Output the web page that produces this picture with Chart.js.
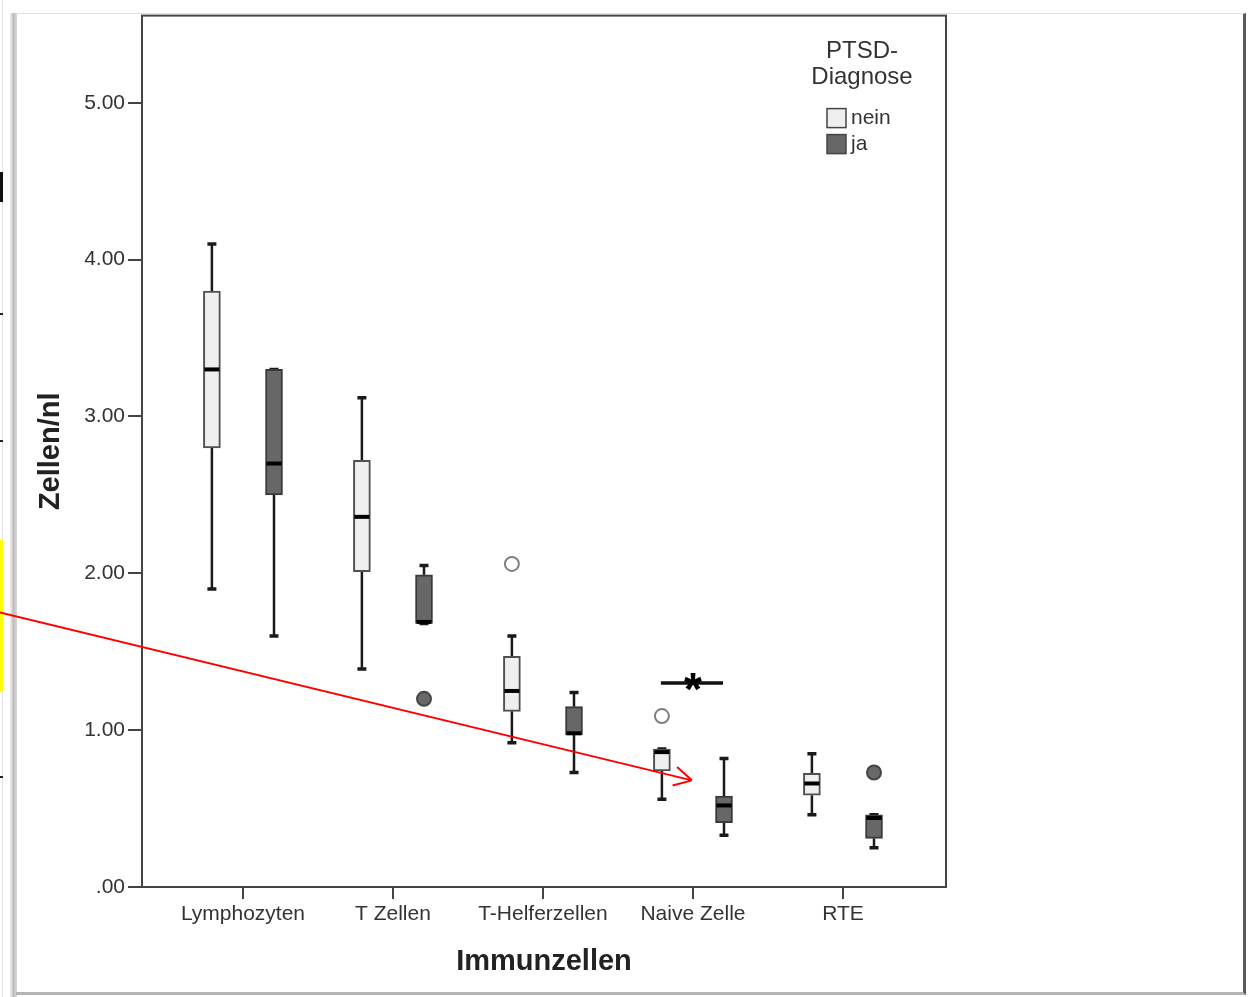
<!DOCTYPE html>
<html>
<head>
<meta charset="utf-8">
<script src="https://cdn.jsdelivr.net/npm/chart.js@4"></script>
<style>
  html, body { margin: 0; padding: 0; background: #fff; }
  #wrap { position: relative; width: 1250px; height: 997px; overflow: hidden; }
  #frame { position: absolute; left: 16px; top: 13px; width: 1227px; height: 978px;
           border-top: 1px solid #e2e2e2; border-right: 3px solid #5a5a5a; border-bottom: 3px solid #b4b4b4; }
  #shade { position: absolute; left: 10px; top: 13px; width: 7px; height: 984px;
           background: linear-gradient(to right, #f2f2f2, #bdbdbd, #d9d9d9); }
  #edge { position: absolute; left: 2px; top: 0; width: 1px; height: 997px; background: #e4e4e4; }
  #yellow { position: absolute; left: 0; top: 540px; width: 3px; height: 152px; background: #ffff00; }
  #blob { position: absolute; left: 0; top: 172px; width: 3px; height: 30px; background: #111; }
  .tick { position: absolute; left: 0; width: 3px; height: 2px; background: #222; }
  canvas { position: absolute; left: 0; top: 0; }
</style>
</head>
<body>
<div id="wrap">
  <div id="edge"></div>
  <div id="shade"></div>
  <div id="frame"></div>
  <div id="yellow"></div>
  <div id="blob"></div>
  <div class="tick" style="top:313px"></div>
  <div class="tick" style="top:440px"></div>
  <div class="tick" style="top:776px"></div>
  <canvas id="stage" width="1250" height="997"></canvas>
</div>
<script>
// Kategorien und Werte (Zellen/nl)
const categories = ['Lymphozyten', 'T Zellen', 'T-Helferzellen', 'Naive Zelle', 'RTE'];
const groups = ['nein', 'ja'];

const neinMin = [1.90, 1.39, 0.92, 0.56, 0.46];
const neinQ1  = [2.80, 2.01, 1.12, 0.74, 0.585];
const neinMed = [3.30, 2.36, 1.25, 0.86, 0.66];
const neinQ3  = [3.80, 2.72, 1.47, 0.88, 0.725];
const neinMax = [4.10, 3.12, 1.60, 0.88, 0.85];
const neinOut = [null, null, 2.06, 1.09, null];

const jaMin = [1.60, 1.68, 0.73, 0.33, 0.25];
const jaQ1  = [2.50, 1.68, 0.97, 0.41, 0.31];
const jaMed = [2.70, 1.69, 0.98, 0.52, 0.44];
const jaQ3  = [3.30, 1.99, 1.15, 0.58, 0.46];
const jaMax = [3.30, 2.05, 1.24, 0.82, 0.46];
const jaOut = [null, 1.20, null, null, 0.73];

const yTicks = [0, 1, 2, 3, 4, 5];

// Signifikanz-Markierung (Naive Zelle)
const sigCategory = 3;
const sigLevel = 1.30;

// roter Pfeil (Anmerkung), in Achsenwerten
const arrowFrom = { x: -1.62, y: 1.75 };
const arrowTo = { x: 2.993, y: 0.68 };

const FONT = "'Liberation Sans', Arial, sans-serif";
const OFF = 0.207;          // Abstand der Boxen von der Kategoriemitte
const BOX_W = 17;
const LIGHT = '#efefef', DARK = '#676767';

const boxes = [
    { min: neinMin, q1: neinQ1, med: neinMed, q3: neinQ3, max: neinMax, out: neinOut, dx: -OFF, fill: LIGHT, line: '#505050' },
    { min: jaMin, q1: jaQ1, med: jaMed, q3: jaQ3, max: jaMax, out: jaOut, dx: OFF, fill: DARK, line: '#3a3a3a' },
];

function boxData(b){
    return categories.map((c, i) => ({ x: i + b.dx, y: [b.q1[i], b.q3[i]] }));
}
function outlierData(b){
    const pts = [];
    b.out.forEach((v, i) => { if (v !== null) pts.push({ x: i + b.dx, y: v }); });
    return pts;
}

// Whisker, Mediane, Rahmen, Legende usw.
const boxplotExtras = {
    id: 'boxplotExtras',
    beforeDatasetsDraw(chart){
        const ctx = chart.ctx, xs = chart.scales.x, ys = chart.scales.y;
        const a = chart.chartArea;
        ctx.save();
        ctx.strokeStyle = '#444';
        ctx.lineWidth = 2;
        ctx.strokeRect(a.left, a.top, a.right - a.left, a.bottom - a.top);
        // Whisker
        ctx.strokeStyle = '#1a1a1a';
        for (const b of boxes) {
            categories.forEach((c, i) => {
                const px = xs.getPixelForValue(i + b.dx);
                const yMin = ys.getPixelForValue(b.min[i]), yMax = ys.getPixelForValue(b.max[i]);
                const yQ1 = ys.getPixelForValue(b.q1[i]), yQ3 = ys.getPixelForValue(b.q3[i]);
                ctx.lineWidth = 2.5;
                ctx.beginPath();
                ctx.moveTo(px, yQ3); ctx.lineTo(px, yMax);
                ctx.moveTo(px, yQ1); ctx.lineTo(px, yMin);
                ctx.stroke();
                ctx.lineWidth = 3.5;
                ctx.beginPath();
                ctx.moveTo(px - 4.5, yMax); ctx.lineTo(px + 4.5, yMax);
                ctx.moveTo(px - 4.5, yMin); ctx.lineTo(px + 4.5, yMin);
                ctx.stroke();
            });
        }
        ctx.restore();
    },
    afterDatasetsDraw(chart){
        const ctx = chart.ctx, xs = chart.scales.x, ys = chart.scales.y;
        const a = chart.chartArea;
        ctx.save();
        // Mediane
        ctx.strokeStyle = '#000';
        ctx.lineWidth = 4;
        for (const b of boxes) {
            categories.forEach((c, i) => {
                const px = xs.getPixelForValue(i + b.dx);
                const y = ys.getPixelForValue(b.med[i]);
                ctx.beginPath();
                ctx.moveTo(px - BOX_W / 2 + 1, y); ctx.lineTo(px + BOX_W / 2 - 1, y);
                ctx.stroke();
            });
        }
        // Signifikanz
        const sy = ys.getPixelForValue(sigLevel);
        ctx.strokeStyle = '#111';
        ctx.lineWidth = 3.5;
        ctx.beginPath();
        ctx.moveTo(xs.getPixelForValue(sigCategory - OFF) - 1, sy);
        ctx.lineTo(xs.getPixelForValue(sigCategory + OFF) - 1, sy);
        ctx.stroke();
        ctx.fillStyle = '#000';
        ctx.font = 'bold 46px ' + FONT;
        ctx.textAlign = 'center';
        ctx.textBaseline = 'alphabetic';
        ctx.fillText('*', xs.getPixelForValue(sigCategory), sy + 22);

        // Legende
        const lx = a.right - 84;
        ctx.fillStyle = '#333';
        ctx.font = '24px ' + FONT;
        ctx.textBaseline = 'middle';
        ctx.fillText('PTSD-', lx, a.top + 36);
        ctx.fillText('Diagnose', lx, a.top + 62);
        const swatch = [LIGHT, DARK];
        ctx.font = '21px ' + FONT;
        ctx.textAlign = 'left';
        groups.forEach((g, k) => {
            const top = a.top + 93 + k * 26;
            ctx.fillStyle = swatch[k];
            ctx.fillRect(a.right - 119, top, 19, 19);
            ctx.strokeStyle = '#444';
            ctx.lineWidth = 1.5;
            ctx.strokeRect(a.right - 119, top, 19, 19);
            ctx.fillStyle = '#333';
            ctx.fillText(g, a.right - 95, top + 10);
        });
        ctx.restore();
    },
    afterDraw(chart){
        const ctx = chart.ctx, xs = chart.scales.x, ys = chart.scales.y;
        const x0 = xs.getPixelForValue(arrowFrom.x), y0 = ys.getPixelForValue(arrowFrom.y);
        const x1 = xs.getPixelForValue(arrowTo.x), y1 = ys.getPixelForValue(arrowTo.y);
        const ang = Math.atan2(y1 - y0, x1 - x0);
        ctx.save();
        ctx.strokeStyle = '#ff0000';
        ctx.lineWidth = 2;
        ctx.beginPath();
        ctx.moveTo(x0, y0); ctx.lineTo(x1, y1);
        for (const s of [-1, 1]) {
            const t = ang + Math.PI + s * 0.5;
            ctx.moveTo(x1, y1);
            ctx.lineTo(x1 + 20 * Math.cos(t), y1 + 20 * Math.sin(t));
        }
        ctx.stroke();
        ctx.restore();
    }
};

const datasets = [];
boxes.forEach((b, k) => {
    datasets.push({
        type: 'bar',
        label: groups[k],
        data: boxData(b),
        backgroundColor: b.fill,
        borderColor: b.line,
        borderWidth: 2,
        borderSkipped: false,
        barThickness: BOX_W,
        grouped: false,
        order: 2,
    });
});
boxes.forEach((b, k) => {
    datasets.push({
        type: 'scatter',
        label: groups[k] + ' Ausreißer',
        data: outlierData(b),
        backgroundColor: k === 0 ? '#ffffff' : '#686868',
        borderColor: k === 0 ? '#808080' : '#454545',
        borderWidth: 2,
        pointRadius: 7,
        order: 1,
    });
});

new Chart(document.getElementById('stage'), {
    type: 'bar',
    data: { datasets: datasets },
    options: {
        responsive: false,
        maintainAspectRatio: false,
        animation: false,
        layout: { padding: { left: 30, top: 13, right: 304, bottom: 14 } },
        plugins: { legend: { display: false }, tooltip: { enabled: false } },
        scales: {
            x: {
                type: 'linear',
                offset: false,
                min: -0.673,
                max: 4.687,
                afterBuildTicks: (scale) => { scale.ticks = categories.map((c, i) => ({ value: i })); },
                afterFit: (scale) => { scale.height = 96; },
                grid: { offset: false, drawOnChartArea: false, color: '#444', lineWidth: 2, tickLength: 12 },
                border: { display: false },
                ticks: {
                    padding: 3,
                    color: '#333',
                    font: { family: FONT, size: 21 },
                    maxRotation: 0,
                    autoSkip: false,
                    callback: (v) => categories[v],
                },
                title: {
                    display: true,
                    text: 'Immunzellen',
                    color: '#222',
                    font: { family: FONT, size: 29, weight: 'bold' },
                    padding: { top: 4, bottom: 4 },
                },
            },
            y: {
                type: 'linear',
                min: 0,
                max: 5.556,
                afterBuildTicks: (scale) => { scale.ticks = yTicks.map(v => ({ value: v })); },
                afterFit: (scale) => { scale.width = 112; },
                grid: { drawOnChartArea: false, color: '#444', lineWidth: 2, tickLength: 14 },
                border: { display: false },
                ticks: {
                    padding: 3,
                    color: '#333',
                    font: { family: FONT, size: 21 },
                    callback: (v) => v === 0 ? '.00' : v.toFixed(2),
                },
                title: {
                    display: true,
                    text: 'Zellen/nl',
                    color: '#222',
                    font: { family: FONT, size: 29, weight: 'bold' },
                    padding: { top: 4, bottom: 4 },
                },
            },
        },
    },
    plugins: [boxplotExtras],
});
</script>
</body>
</html>
